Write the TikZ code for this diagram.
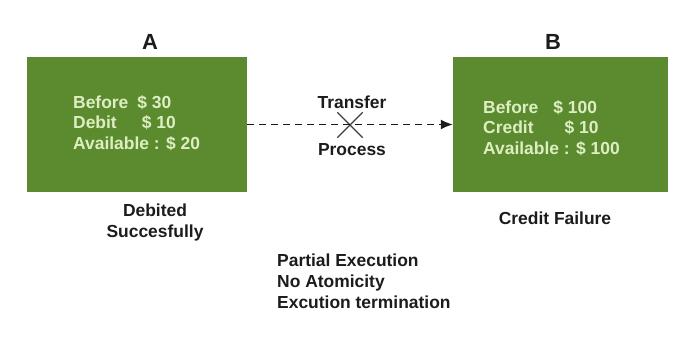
\documentclass[tikz,border=0pt]{standalone}
\usepackage{fontspec}
\setmainfont{Liberation Sans}
\usetikzlibrary{shapes.misc,arrows.meta}
\definecolor{boxgreen}{HTML}{5B8A2F}
\definecolor{boxtext}{HTML}{DDEFC2}
\definecolor{ink}{HTML}{1C1C1C}
\begin{document}
\begin{tikzpicture}[>={Latex[length=12bp,width=10bp]},line join=bevel,text=ink,font=\bfseries\fontsize{17.5}{21}\selectfont]
%%
\useasboundingbox (0bp,0bp) rectangle (673bp,363bp);
\node (box_a) at (137.0bp,238.5bp) [fill=boxgreen,minimum width=220bp,minimum height=135bp] {};
  \node (box_b) at (560.5bp,238.5bp) [fill=boxgreen,minimum width=215bp,minimum height=135bp] {};
  \node (title_a) at (150.0bp,321.0bp) [font=\bfseries\fontsize{22}{24}\selectfont] {A};
  \node (title_b) at (553.0bp,321.0bp) [font=\bfseries\fontsize{22}{24}\selectfont] {B};
  \node (text_a) at (73.0bp,240.0bp) [anchor=west,align=left,inner sep=0pt,text=boxtext,font=\bfseries\fontsize{17.5}{20.5}\selectfont] {Before\hspace{9bp}\$ 30\\Debit\hspace{25bp}\$ 10\\Available : \$ 20};
  \node (text_b) at (483.0bp,235.0bp) [anchor=west,align=left,inner sep=0pt,text=boxtext,font=\bfseries\fontsize{17.5}{20.5}\selectfont] {Before\hspace{15bp}\$ 100\\Credit\hspace{31bp}\$ 10\\Available : \$ 100};
  \node (cut) at (350.0bp,238.0bp) [cross out,draw=ink!85,line width=1.4pt,minimum width=24bp,minimum height=24bp,inner sep=0pt] {};
  \node (transfer) at (352.0bp,261.0bp) {Transfer};
  \node (process) at (352.0bp,213.0bp) {Process};
  \node (note_a) at (155.0bp,140.5bp) [align=center] {Debited\\Succesfully};
  \node (note_b) at (555.0bp,145.0bp) {Credit Failure};
  \node (summary) at (277.0bp,82.0bp) [anchor=west,align=left,inner sep=0pt] {Partial Execution\\No Atomicity\\Excution termination};
  \draw [ink,dash pattern=on 7bp off 5bp,line width=1.6bp,->] (box_a) -- (box_b);
%
\end{tikzpicture}
\end{document}
